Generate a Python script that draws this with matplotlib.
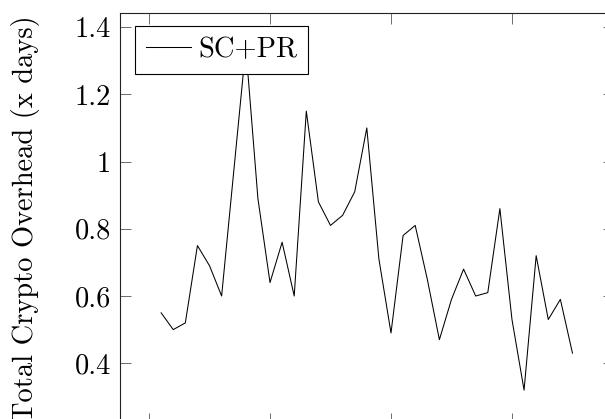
import numpy as np
import matplotlib
matplotlib.use("Agg")
import matplotlib.pyplot as plt

plt.rcParams["font.family"] = "serif"
plt.rcParams["font.serif"] = ["cmr10", "DejaVu Serif"]
plt.rcParams["mathtext.fontset"] = "cm"
plt.rcParams["axes.formatter.use_mathtext"] = True

# data
x = np.arange(1, 36)
overhead = [0.55, 0.50, 0.52, 0.75, 0.69, 0.60, 0.97, 1.34, 0.89, 0.64,
            0.76, 0.60, 1.15, 0.88, 0.81, 0.84, 0.91, 1.10, 0.71, 0.49,
            0.78, 0.81, 0.65, 0.47, 0.59, 0.68, 0.60, 0.61, 0.86, 0.53,
            0.32, 0.72, 0.53, 0.59, 0.43]
yticks = [0.4, 0.6, 0.8, 1.0, 1.2, 1.4]
ytick_labels = ["0.4", "0.6", "0.8", "1", "1.2", "1.4"]
xticks = [0, 10, 20, 30]

W, H = 605, 419
fig = plt.figure(figsize=(W / 100, H / 100), dpi=100)

# axes box in pixels (part of it falls outside the picture, like the cropped original)
left, right, top, bottom = 120, 613.6, 13, 424.4
ax = fig.add_axes([left / W, 1 - bottom / H, (right - left) / W, (bottom - top) / H])

ax.plot(x, overhead, color="black", lw=0.75, label="SC+PR")

# pgfplots style 10% enlargement
xmin, xmax = x.min(), x.max()
ymin, ymax = min(overhead), max(overhead)
ax.set_xlim(xmin - 0.1 * (xmax - xmin), xmax + 0.1 * (xmax - xmin))
ax.set_ylim(ymin - 0.1 * (ymax - ymin), ymax + 0.1 * (ymax - ymin))

ax.set_yticks(yticks)
ax.set_yticklabels(ytick_labels)
ax.set_xticks(xticks)
ax.tick_params(direction="in", length=8, width=0.6, color="#555555",
               top=True, right=True, labelsize=20.5, pad=6.5)
# x tick labels sit below the cropped edge in the original
ax.tick_params(axis="x", labelbottom=False)
for s in ax.spines.values():
    s.set_linewidth(0.8)
    s.set_color("#222222")

ax.set_ylabel("Total Crypto Overhead (x days)", fontsize=20.5)
ax.yaxis.set_label_coords((40 - left) / (right - left), 0.5)

leg = ax.legend(loc="upper left", bbox_to_anchor=(135 / W, 1 - 25.7 / H),
                bbox_transform=fig.transFigure, borderaxespad=0,
                fontsize=20.5, fancybox=False, framealpha=1,
                edgecolor="black", handlelength=1.6, handletextpad=0.25,
                borderpad=0.38)
leg.get_frame().set_linewidth(0.8)

fig.savefig("out.png", dpi=100)
